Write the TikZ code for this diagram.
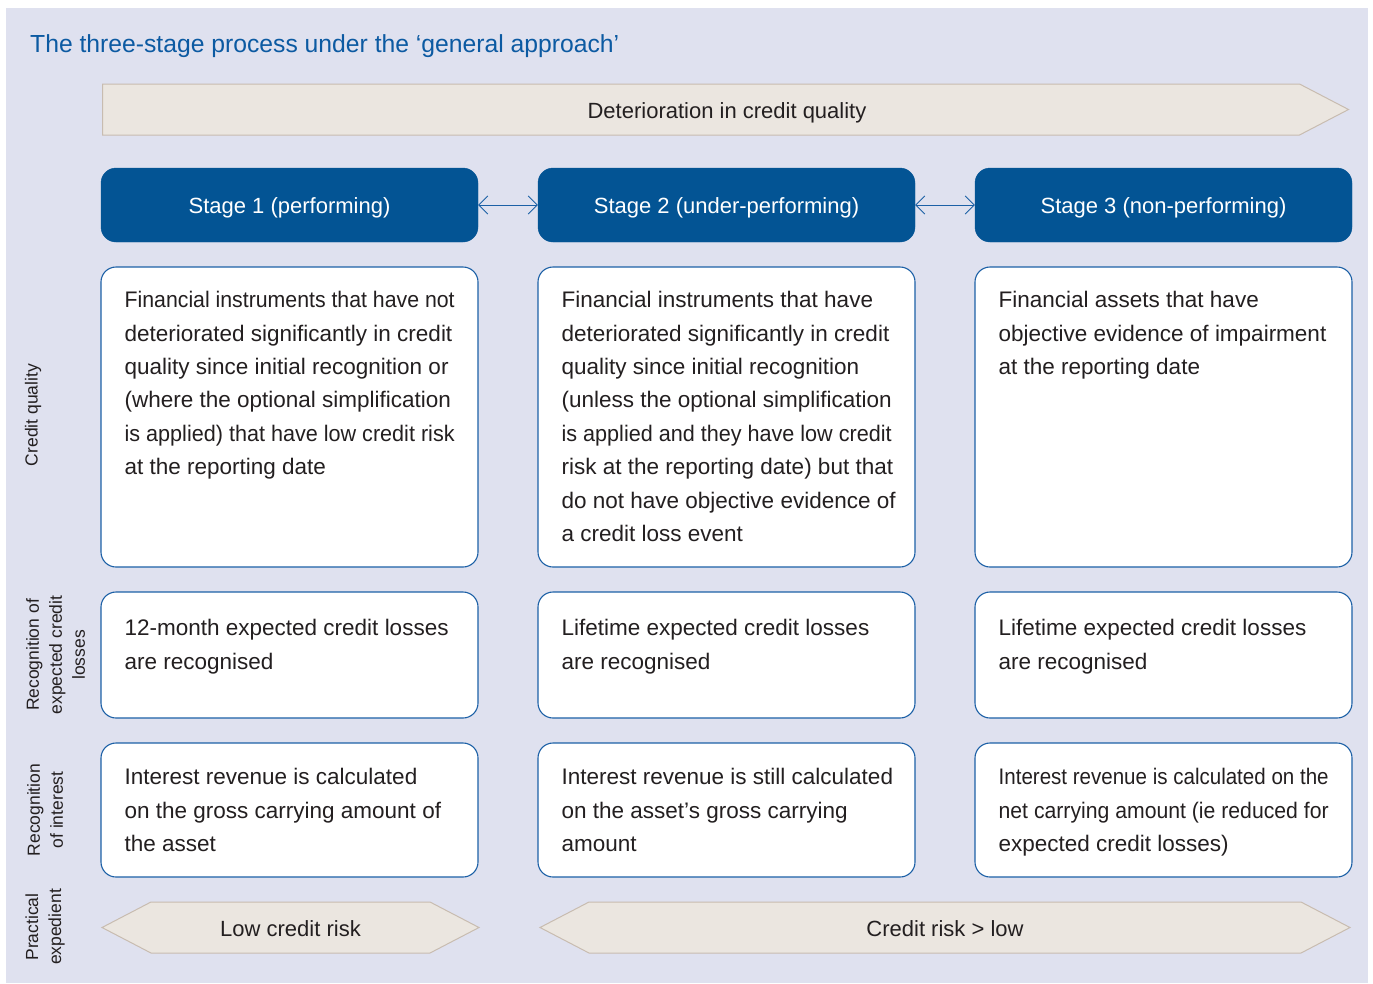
\documentclass[tikz,border=0pt]{standalone}
\usepackage{fontspec}
\setmainfont{Liberation Sans}
\usepackage{graphicx}
\usetikzlibrary{shapes.symbols,arrows.meta}

\definecolor{stageblue}{RGB}{3,84,148}
\definecolor{titleblue}{RGB}{12,90,162}
\definecolor{boxline}{RGB}{28,96,166}
\definecolor{bgpanel}{RGB}{223,225,239}
\definecolor{tanfill}{RGB}{235,230,224}
\definecolor{tanline}{RGB}{200,188,176}
\definecolor{inkgrey}{RGB}{35,31,32}

\newcommand{\tightline}[1]{\resizebox{330pt}{\height}{#1}}

\begin{document}
\begin{tikzpicture}[x=1pt,y=-1pt]

%
% Styles
%
\tikzstyle{stagebox}  = [rectangle,rounded corners=15pt,fill=stageblue,draw=stageblue,minimum width=377pt,minimum height=74pt,inner sep=0pt,text height=17pt,text depth=0pt,text=white,font=\fontsize{22}{26}\selectfont]
\tikzstyle{infobox}   = [rectangle,rounded corners=15pt,draw=boxline,line width=1.1pt,fill=white,minimum width=377pt,inner sep=0pt]
\tikzstyle{infotext}  = [anchor=north west,align=left,inner sep=0pt,text=inkgrey,font=\fontsize{22.5}{33.4}\selectfont]
\tikzstyle{sidelabel} = [rotate=90,align=center,inner sep=0pt,text=inkgrey,font=\fontsize{17.5}{23}\selectfont]
\tikzstyle{tanband}   = [signal,signal pointer angle=55,fill=tanfill,draw=tanline,line width=1pt,minimum height=51pt,inner sep=0pt,text height=18pt,text depth=0pt,text=inkgrey,font=\fontsize{22}{26}\selectfont]
\tikzstyle{bandtext}  = [anchor=base,inner sep=0pt,text=inkgrey,font=\fontsize{22}{26}\selectfont]
\tikzstyle{stagelink} = [{Straight Barb[length=9pt,width=18pt]}-{Straight Barb[length=9pt,width=18pt]},draw=boxline,line width=0.9pt]

\useasboundingbox (0,0) rectangle (1373,983);
\fill[bgpanel] (6,8) rectangle (1368,983);

\node[anchor=base west,inner sep=0pt,text=titleblue,font=\fontsize{24.7}{28}\selectfont] (title) at (30,52) {The three-stage process under the ‘general approach’};

% top band
\node[tanband,signal to=east,signal from=nowhere,minimum width=1246pt,anchor=west] (deterioration) at (102,109.5) {};
\node[bandtext] (deteriorationtext) at (727,118) {Deterioration in credit quality};

% stages
\node[stagebox] (stageone)   at ( 289.5,205) {Stage 1 (performing)};
\node[stagebox] (stagetwo)   at ( 726.5,205) {Stage 2 (under-performing)};
\node[stagebox] (stagethree) at (1163.5,205) {Stage 3 (non-performing)};

\draw[stagelink] (stageone) -- (stagetwo);
\draw[stagelink] (stagetwo) -- (stagethree);

% side labels
\node[sidelabel] (qualitylabel)  at (33,415)   {Credit quality};
\node[sidelabel] (ecllabel)      at (55.5,655) {Recognition of\\expected credit\\losses};
\node[sidelabel] (interestlabel) at (45,810)   {Recognition\\of interest};
\node[sidelabel] (expedlabel)    at (45,927)   {Practical\\expedient};

% credit quality
\node[infobox,minimum height=300pt] (qualityone)   at ( 289.5,417) {};
\node[infobox,minimum height=300pt] (qualitytwo)   at ( 726.5,417) {};
\node[infobox,minimum height=300pt] (qualitythree) at (1163.5,417) {};

\node[infotext] (qualityonetext) at ([shift={(24,17.6)}]qualityone.north west)
  {\strut\tightline{Financial instruments that have not}\\deteriorated significantly in credit\\quality since initial recognition or\\(where the optional simplification\\\tightline{is applied) that have low credit risk}\\at the reporting date};
\node[infotext] (qualitytwotext) at ([shift={(24,17.6)}]qualitytwo.north west)
  {\strut Financial instruments that have\\deteriorated significantly in credit\\quality since initial recognition\\(unless the optional simplification\\\tightline{is applied and they have low credit}\\risk at the reporting date) but that\\do not have objective evidence of\\a credit loss event};
\node[infotext] (qualitythreetext) at ([shift={(24,17.6)}]qualitythree.north west)
  {\strut Financial assets that have\\objective evidence of impairment\\at the reporting date};

% expected credit losses
\node[infobox,minimum height=126pt] (eclone)   at ( 289.5,655) {};
\node[infobox,minimum height=126pt] (ecltwo)   at ( 726.5,655) {};
\node[infobox,minimum height=126pt] (eclthree) at (1163.5,655) {};

\node[infotext] (eclonetext)   at ([shift={(24,20.6)}]eclone.north west)   {\strut 12-month expected credit losses\\are recognised};
\node[infotext] (ecltwotext)   at ([shift={(24,20.6)}]ecltwo.north west)   {\strut Lifetime expected credit losses\\are recognised};
\node[infotext] (eclthreetext) at ([shift={(24,20.6)}]eclthree.north west) {\strut Lifetime expected credit losses\\are recognised};

% interest
\node[infobox,minimum height=134pt] (interestone)   at ( 289.5,810) {};
\node[infobox,minimum height=134pt] (interesttwo)   at ( 726.5,810) {};
\node[infobox,minimum height=134pt] (interestthree) at (1163.5,810) {};

\node[infotext] (interestonetext)   at ([shift={(24,18.6)}]interestone.north west)
  {\strut Interest revenue is calculated\\on the gross carrying amount of\\the asset};
\node[infotext] (interesttwotext)   at ([shift={(24,18.6)}]interesttwo.north west)
  {\strut Interest revenue is still calculated\\on the asset’s gross carrying\\amount};
\node[infotext] (interestthreetext) at ([shift={(24,18.6)}]interestthree.north west)
  {\strut\tightline{Interest revenue is calculated on the}\\\tightline{net carrying amount (ie reduced for}\\expected credit losses)};

% practical expedient
\node[tanband,signal to=east and west,minimum width=377pt] (lowrisk)    at (290.5,927.5) {Low credit risk};
\node[tanband,signal to=east and west,minimum width=810pt] (higherrisk) at (945,927.5)   {Credit risk > low};

\end{tikzpicture}
\end{document}
